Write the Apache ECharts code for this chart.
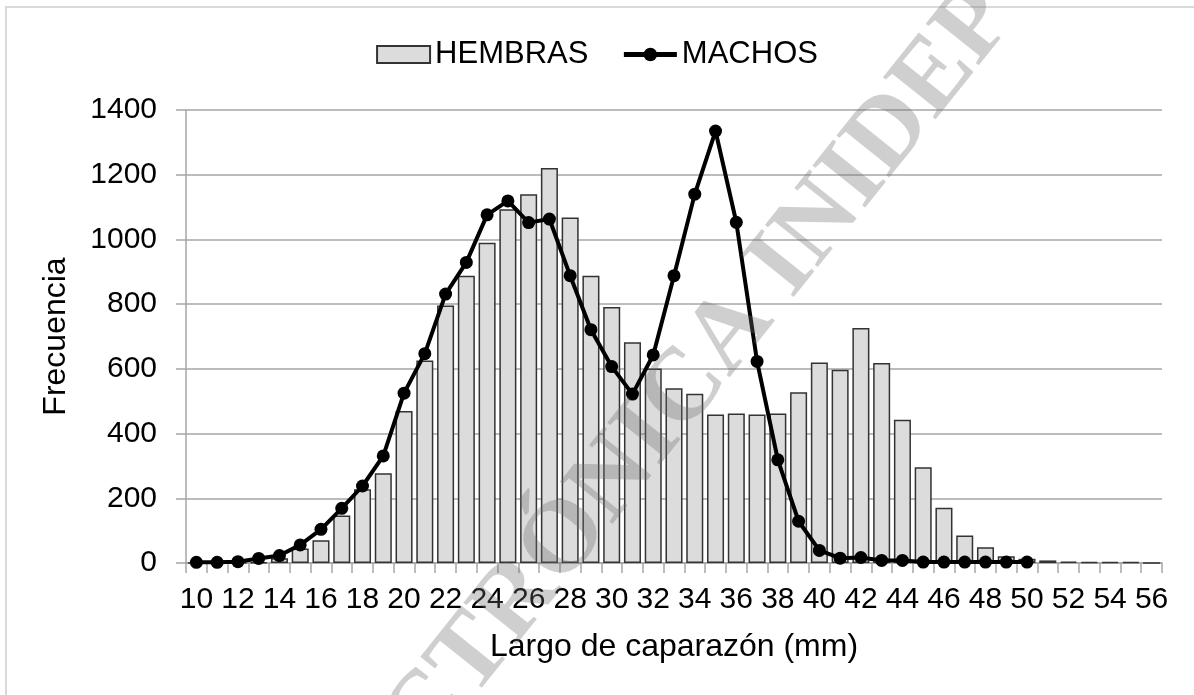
<!DOCTYPE html>
<html>
<head>
<meta charset="utf-8">
<script src="https://cdn.jsdelivr.net/npm/echarts@6/dist/echarts.min.js"></script>
<style>
  html, body { margin: 0; padding: 0; background: #fff; }
  #main_chart { width: 1194px; height: 695px; }
</style>
</head>
<body>
<div id="main_chart"></div>
<script>
// largo de caparazon (mm)
var tallas = [];
for (var t = 10; t <= 56; t++) { tallas.push(String(t)); }

var hembras = [0, 0, 0, 2, 15, 45, 70, 147, 228, 277,
               470, 626, 796, 888, 990, 1093, 1140, 1221, 1068, 888,
               791, 682, 601, 540, 523, 459, 462, 459, 462, 528,
               620, 597, 726, 618, 443, 296, 171, 85, 49, 21,
               13, 8, 4, 3, 3, 3, 0];

var machos = [2, 2, 4, 14, 23, 56, 104, 169, 238, 331,
              525, 647, 831, 929, 1076, 1119, 1052, 1063, 888, 721,
              607, 522, 643, 888, 1140, 1335, 1053, 623, 319, 129,
              39, 15, 17, 8, 8, 3, 3, 3, 3, 3,
              3, null, null, null, null, null, null];

var yTicks = [0, 200, 400, 600, 800, 1000, 1200, 1400];

var myChart = echarts.init(document.getElementById('main_chart'));
var gris = '#a6a6a6';

var option = {
  animation: false,
  textStyle: { fontFamily: '"Liberation Sans", Arial, sans-serif', color: '#000' },
  legend: {
    top: 34,
    left: 'center',
    itemWidth: 53,
    itemHeight: 17,
    itemGap: 33,
    textStyle: { fontSize: 31, color: '#000' },
    data: [
      { name: 'HEMBRAS', icon: 'rect' },
      { name: 'MACHOS', lineStyle: { width: 5, color: '#000' }, itemStyle: { color: '#000' } }
    ]
  },
  grid: {
    left: 186, right: 32, top: 110, bottom: 132,
    containLabel: false,
    outerBoundsMode: 'none'
  },
  xAxis: {
    type: 'category',
    data: tallas,
    boundaryGap: true,
    name: 'Largo de caparazón (mm)',
    nameLocation: 'middle',
    nameGap: 68,
    nameTextStyle: { fontSize: 32, color: '#000' },
    axisLine: { lineStyle: { color: gris, width: 1.5 } },
    axisTick: { show: true, interval: 0, length: 10, lineStyle: { color: gris, width: 1.5 } },
    axisLabel: { interval: 1, fontSize: 30, color: '#000', margin: 22 },
    splitLine: { show: false }
  },
  yAxis: {
    type: 'value',
    min: yTicks[0],
    max: yTicks[yTicks.length - 1],
    interval: 200,
    name: 'Frecuencia',
    nameLocation: 'middle',
    nameGap: 114,
    nameRotate: 90,
    nameTextStyle: { fontSize: 32, color: '#000' },
    axisLine: { show: true, lineStyle: { color: gris, width: 1.5 } },
    axisTick: { show: true, length: 10, lineStyle: { color: gris, width: 1.5 } },
    axisLabel: {
      fontSize: 30, color: '#000', margin: 29,
      formatter: function (v) { return String(v); }
    },
    splitLine: { show: true, lineStyle: { color: gris, width: 1.5 } }
  },
  series: [
    {
      name: 'HEMBRAS',
      type: 'bar',
      data: hembras,
      barCategoryGap: '18%',
      itemStyle: { color: '#dcdcdc', borderColor: '#333', borderWidth: 1.5 }
    },
    {
      name: 'MACHOS',
      type: 'line',
      data: machos,
      symbol: 'circle',
      symbolSize: 13,
      z: 5,
      itemStyle: { color: '#000' },
      lineStyle: { color: '#000', width: 4 }
    }
  ],
  graphic: [
    {
      type: 'rect',
      z: -10,
      shape: { x: 6, y: 7, width: 1400, height: 900 },
      style: { fill: 'none', stroke: '#d9d9d9', lineWidth: 2 }
    },
    {
      // marca de agua
      type: 'text',
      z: 100,
      x: 636,
      y: 452,
      rotation: 51.4 * Math.PI / 180,
      style: {
        text: 'ELECTRÓNICA INIDEP',
        font: 'bold 103px "Liberation Serif", serif',
        fill: 'rgba(110,110,110,0.33)',
        align: 'center',
        verticalAlign: 'middle'
      }
    }
  ]
};

myChart.setOption(option);
</script>
</body>
</html>
